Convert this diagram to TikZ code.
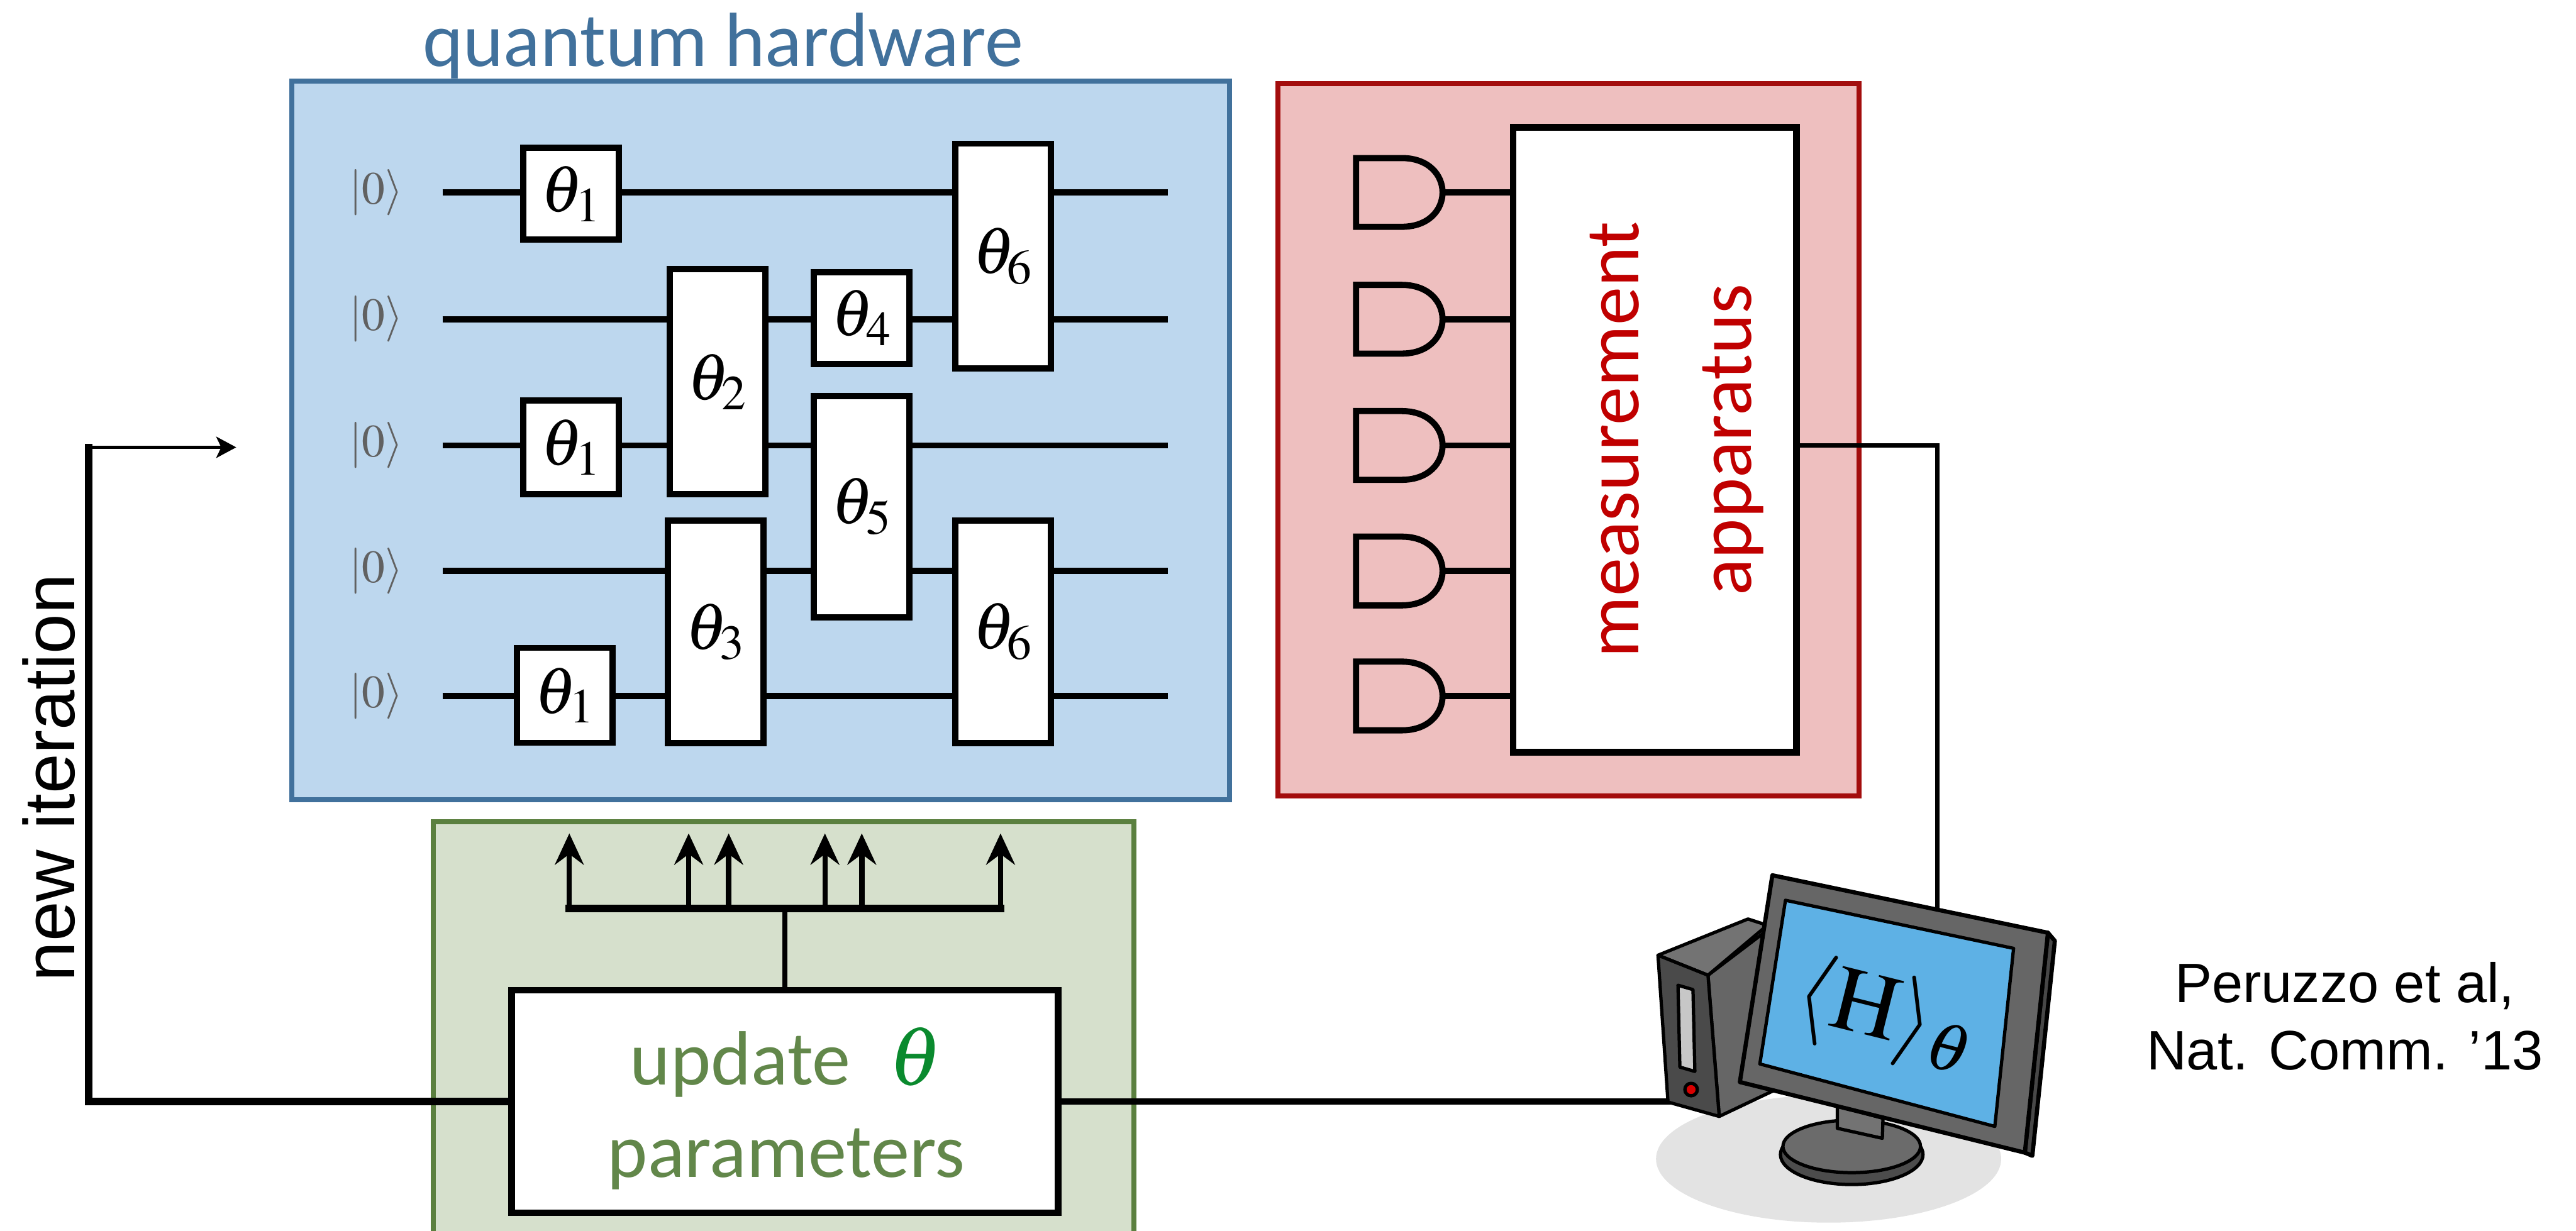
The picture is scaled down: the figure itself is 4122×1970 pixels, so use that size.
\documentclass[tikz,border=0pt]{standalone}
\usepackage{mathptmx}
\usepackage[no-math]{fontspec}
\setmainfont{Carlito}
\newfontfamily\helv{Liberation Sans}
\usetikzlibrary{arrows.meta,positioning}

\definecolor{hwfill}{HTML}{BDD7EE}
\definecolor{hwline}{HTML}{41719C}
\definecolor{msfill}{HTML}{EEBFBF}
\definecolor{msline}{HTML}{A30D0D}
\definecolor{mstext}{HTML}{C00000}
\definecolor{ctfill}{HTML}{D6E0CC}
\definecolor{ctline}{HTML}{5B803F}
\definecolor{cttext}{HTML}{62874A}
\definecolor{thgreen}{HTML}{0A8A2E}
\definecolor{screen}{HTML}{5EB1E5}

\begin{document}
\begin{tikzpicture}[x=0.01cm,y=-0.01cm,
    gate/.style={draw,fill=white,line width=2.8pt,minimum width=1.53cm,
                 inner sep=0pt,font=\fontsize{30}{33}\selectfont},
    ket/.style={text=black!62,font=\fontsize{21}{24}\selectfont},
    wire/.style={line width=2.8pt},
    panel/.style={line width=2.3pt,inner sep=0pt},
    whitebox/.style={draw,fill=white,line width=3pt,inner sep=0pt},
    boxtext/.style={font=\fontsize{35}{43}\selectfont},
    upar/.style={line width=2.4pt,-{Stealth[length=0.5cm,width=0.46cm,inset=0.17cm]}}]
  \useasboundingbox (0,0) rectangle (4122,1970);

  % panels
  \node[panel,draw=hwline,fill=hwfill,minimum width=15cm,minimum height=11.5cm] (hw) at (1217,705) {};
  \node[panel,draw=msline,fill=msfill,minimum width=9.29cm,minimum height=11.39cm] (ms) at (2510,704) {};
  \node[panel,draw=ctline,fill=ctfill,minimum width=11.21cm,minimum height=6.9cm] (ct) at (1254,1660) {};
  \node[boxtext,text=hwline,anchor=base] (hwname) at (1157,106) {quantum hardware};

  % qubit lines and detectors
  \foreach \i/\y in {1/308,2/511,3/713,4/914,5/1114}
  {\node[ket] (ket\i) at (602,\y) {$|0\rangle$};
   \coordinate (wl\i) at (708,\y);
   \coordinate (wr\i) at (1869,\y);
   \draw[wire] (wl\i) -- (wr\i);
   \draw[wire,fill=msfill] (2170,\y-55) -- (2243,\y-55)
     .. controls (2330,\y-55) and (2330,\y+55) .. (2243,\y+55) -- (2170,\y+55) -- cycle;
   \coordinate (det\i) at (2308,\y);
  }

  % gates
  \node[gate,minimum height=1.47cm] (g1a) at (914,310) {$\theta_1$};
  \node[gate,minimum height=1.5cm]  (g1b) at (914,716) {$\theta_1$};
  \node[gate,minimum height=1.52cm] (g1c) at (904,1113) {$\theta_1$};
  \node[gate,minimum height=3.6cm]  (g2)  at (1148,611) {$\theta_2$};
  \node[gate,minimum height=3.56cm] (g3)  at (1145,1011) {$\theta_3$};
  \node[gate,minimum height=1.47cm] (g4)  at (1379,509) {$\theta_4$};
  \node[gate,minimum height=3.54cm] (g5)  at (1379,811) {$\theta_5$};
  \node[gate,minimum height=3.6cm]  (g6a) at (1605,410) {$\theta_6$};
  \node[gate,minimum height=3.56cm] (g6b) at (1605,1011) {$\theta_6$};

  % measurement
  \node[whitebox,minimum width=4.53cm,minimum height=10cm] (meas) at (2648,704) {};
  \node[font=\fontsize{35}{51}\selectfont,rotate=90,align=center,text=mstext] (mstxt) at (2683,704) {measurement\\apparatus};
  \foreach \i in {1,...,5}
    \draw[wire] (det\i) -- (det\i -| meas.west);

  % classical update
  \node[whitebox,minimum width=8.74cm,minimum height=3.56cm] (upd) at (1256,1763) {};
  \node[font=\fontsize{35}{42}\selectfont,align=center,text=cttext] (updtxt) at (1258,1774)
    {update\hspace{0.5em}{\color{thgreen}\fontsize{38}{42}\selectfont$\theta$}\\parameters};
  \coordinate (barmid) at (1256,1454);
  \coordinate (barl) at (911,1454);
  \coordinate (barr) at (1601,1454);
  \draw[line width=2.4pt] (upd.north) -- (barmid);
  \draw[line width=3.4pt,line cap=rect] (barl) -- (barr);
  \foreach \x in {911,1102,1166,1320,1379,1601}
  {\coordinate (tip\x) at (\x,1334);
   \draw[upar] (tip\x |- barl) -- (tip\x);
  }

  % feedback loop
  \coordinate (loopbl) at (142,1763);
  \coordinate (looptl) at (142,716);
  \coordinate (hwin) at (378,716);
  \draw[line width=3.3pt,line cap=rect] (upd.west) -- (loopbl) -- (looptl);
  \draw[line width=1.4pt,-{Stealth[length=0.32cm,width=0.34cm,inset=0.08cm]}] (looptl) -- (hwin);
  \node[rotate=90,font=\helv\fontsize{32.7}{36}\selectfont] (newit) at (78,1245) {new iteration};

  \coordinate (tower) at (2700,1763);
  \coordinate (screen) at (3100,1500);
  \draw[line width=3pt] (upd.east) -- (tower);
  \draw[line width=2pt] (meas.east |- wr3) -| (screen);

  % computer
  \fill[black!11] (2926,1855) ellipse [x radius=2.76cm, y radius=1.02cm];
  \begin{scope}[line width=1.5pt,line join=round]
    \draw[fill=black!60] (2733,1561) -- (2837,1482) -- (2850,1740) -- (2751,1787) -- cycle;
    \draw[fill=black!55] (2653,1529) -- (2797,1471) -- (2828,1481) -- (2733,1561) -- cycle;
    \draw[fill=black!71] (2653,1529) -- (2733,1561) -- (2751,1787) -- (2669,1764) -- cycle;
    \draw[fill=black!22] (2685,1577) -- (2709,1584) -- (2712,1715) -- (2688,1708) -- cycle;
    \draw[fill=red!85!black] (2706,1744) circle [radius=0.1cm];
    \draw[fill=black!70] (2963,1848) ellipse [x radius=1.14cm, y radius=0.48cm];
    \draw[fill=black!58] (2963,1835) ellipse [x radius=1.1cm, y radius=0.42cm];
    \draw[fill=black!55] (2940,1770) -- (3013,1790) -- (3012,1822) -- (2940,1806) -- cycle;
    \draw[fill=black!72,line width=1.9pt] (3277,1493) -- (3288,1506) -- (3252,1850) -- (3240,1845) -- cycle;
    \draw[fill=black!60,line width=1.9pt] (2836,1401) -- (3277,1493) -- (3240,1845) -- (2784,1732) -- cycle;
    \draw[fill=screen] (2857,1441) -- (3222,1518) -- (3192,1803) -- (2816,1703) -- cycle;
  \end{scope}
  \node[rotate=-14,font=\fontsize{42}{46}\selectfont] (expval) at (3018,1627) {$\langle\mathrm{H}\rangle_\theta$};

  \node[align=center,font=\helv\fontsize{25.3}{30.7}\selectfont] (cite) at (3752,1627) {Peruzzo et al,\\Nat. Comm. ’13};
\end{tikzpicture}
\end{document}
